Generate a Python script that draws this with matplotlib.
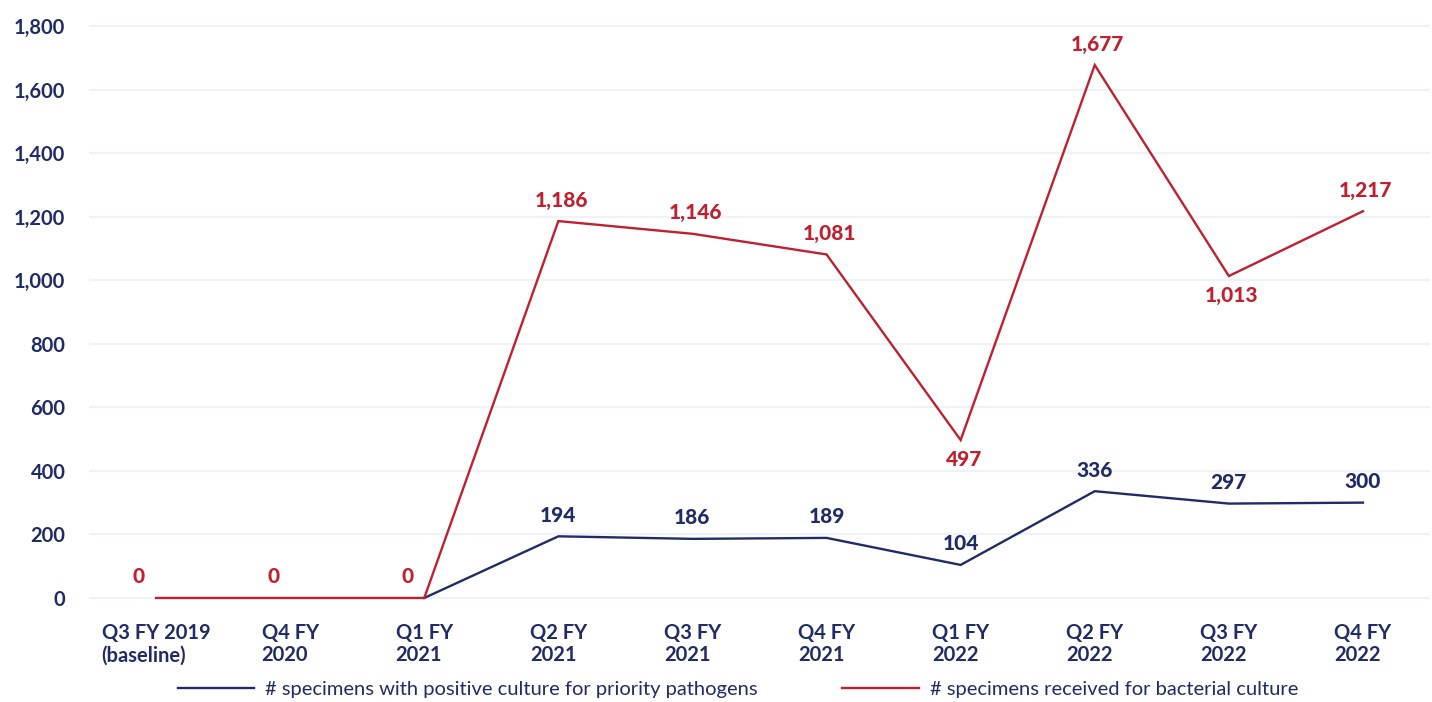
import matplotlib
matplotlib.use("Agg")
import matplotlib.pyplot as plt
from matplotlib.ticker import FuncFormatter, FixedLocator

categories = ["Q3 FY 2019\n(baseline)", "Q4 FY\n2020", "Q1 FY\n2021", "Q2 FY\n2021",
              "Q3 FY\n2021", "Q4 FY\n2021", "Q1 FY\n2022", "Q2 FY\n2022",
              "Q3 FY\n2022", "Q4 FY\n2022"]
positive = [None, None, 0, 194, 186, 189, 104, 336, 297, 300]
received = [0, 0, 0, 1186, 1146, 1081, 497, 1677, 1013, 1217]
received_below = [False, False, False, False, False, False, True, False, True, False]
yticks = [0, 200, 400, 600, 800, 1000, 1200, 1400, 1600, 1800]

NAVY = "#1f2c68"
RED = "#c0202f"
FONT = ["Lato", "DejaVu Sans"]
plt.rcParams['font.family'] = FONT

fig = plt.figure(figsize=(14.32, 7.02), dpi=100)
ax = fig.add_axes([89/1432, 1 - 607.5/702, (1430-89)/1432, (607.5-19.6)/702])

x = list(range(len(categories)))
xb = [i for i, v in enumerate(positive) if v is not None]
yb = [positive[i] for i in xb]

ax.plot(xb, yb, color=NAVY, lw=1.7, solid_joinstyle='miter', zorder=3,
        label="# specimens with positive culture for priority pathogens")
ax.plot(x, received, color=RED, lw=1.7, solid_joinstyle='miter', zorder=4,
        label="# specimens received for bacterial culture")

# data labels
for i, v in enumerate(received):
    below = received_below[i]
    dx = -17 if v == 0 else 3
    ax.annotate(f"{v:,}", (i, v), xytext=(dx, -19 if below else 21), textcoords='offset pixels',
                ha='center', va='center', color=RED, fontsize=15, fontweight='black')
for i, v in zip(xb, yb):
    if i >= 3:
        ax.annotate(f"{v:,}", (i, v), xytext=(0, 21), textcoords='offset pixels',
                    ha='center', va='center', color=NAVY, fontsize=15, fontweight='black')

ax.set_xlim(-0.5, len(categories) - 0.5)
ax.set_ylim(-30, 1820)
ax.yaxis.set_major_locator(FixedLocator(yticks))
ax.yaxis.set_major_formatter(FuncFormatter(lambda v, p: f"{int(v):,}"))
ax.set_xticks(x)
ax.set_xticklabels(categories, multialignment='left')
ax.tick_params(axis='both', length=0, colors=NAVY, labelsize=14.5)
ax.tick_params(axis='y', pad=17)
ax.tick_params(axis='x', pad=11)
for lab in ax.get_xticklabels() + ax.get_yticklabels():
    lab.set_fontweight('bold')
    lab.set_color(NAVY)
for lab in ax.get_xticklabels():
    lab.set_linespacing(1.15)

ax.grid(axis='y', color='#eef3f9', lw=1.6, zorder=0)
for s in ax.spines.values():
    s.set_visible(False)

leg = fig.legend(loc='center', bbox_to_anchor=(738/1432, 1 - 689/702), ncol=2,
                 frameon=False, fontsize=14.5, handlelength=3.8, columnspacing=4.2,
                 handletextpad=0.55)
for t in leg.get_texts():
    t.set_color(NAVY)

fig.savefig("out.png", dpi=100, facecolor='white')
